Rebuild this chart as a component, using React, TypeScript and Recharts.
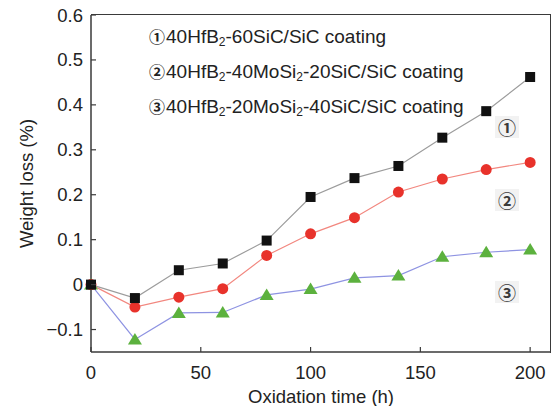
import React from 'react'
import { LineChart, Line, XAxis, YAxis } from 'recharts'

const hours = [0, 20, 40, 60, 80, 100, 120, 140, 160, 180, 200]
const hfSic = [0, -0.03, 0.032, 0.047, 0.098, 0.195, 0.237, 0.264, 0.327, 0.386, 0.462]
const hfMo40 = [0, -0.05, -0.028, -0.009, 0.065, 0.113, 0.149, 0.206, 0.235, 0.256, 0.272]
const hfMo20 = [0, -0.122, -0.063, -0.062, -0.023, -0.01, 0.015, 0.02, 0.062, 0.072, 0.078]
const seriesNames = ['40HfB2-60SiC/SiC coating', '40HfB2-40MoSi2-20SiC/SiC coating', '40HfB2-20MoSi2-40SiC/SiC coating']
const marks = ['\u2460', '\u2461', '\u2462']
const xTicks = [0, 50, 100, 150, 200]
const yTicks = [-0.1, 0, 0.1, 0.2, 0.3, 0.4, 0.5, 0.6]

const data = hours.map((h, i) => ({ h, s1: hfSic[i], s2: hfMo40[i], s3: hfMo20[i] }))

const font = '"Liberation Sans", Arial, sans-serif'
const markFont = '"Noto Sans CJK SC", "DejaVu Sans", sans-serif'
const ink = '#222'
const frame = '#3a3a3a'
const fs = 18.5

// subscript the 2 in HfB2 / MoSi2
const renderName = (n: string) =>
  n.split(/(HfB2|MoSi2)/).map((part, i) =>
    part === 'HfB2' || part === 'MoSi2'
      ? <span key={i}>{part.slice(0, -1)}<sub style={{ fontSize: 12, verticalAlign: '-3px', lineHeight: 0 }}>2</sub></span>
      : <span key={i}>{part}</span>)

const fmtY = (v: number) => (v === 0 ? '0' : v < 0 ? '\u2212' + Math.abs(v) : String(v))

const YTick = (props: any) => {
  const { y, payload } = props
  return (
    <g>
      <line x1={91} x2={96} y1={y} y2={y} stroke={frame} strokeWidth={1.2} />
      <text x={83} y={y} dy={6.5} textAnchor="end" fontSize={fs} fill={ink} fontFamily={font}>{fmtY(payload.value)}</text>
    </g>
  )
}

const XTick = (props: any) => {
  const { x, payload } = props
  return (
    <g>
      <line x1={x} x2={x} y1={352} y2={347} stroke={frame} strokeWidth={1.2} />
      <text x={x} y={379} textAnchor="middle" fontSize={fs} fill={ink} fontFamily={font}>{payload.value}</text>
    </g>
  )
}

const squareDot = (p: any) => <rect key={p.index} x={p.cx - 5} y={p.cy - 5} width={10} height={10} fill="#111" />
const circleDot = (p: any) => <circle key={p.index} cx={p.cx} cy={p.cy} r={5.5} fill="#e8322b" />
const triDot = (p: any) =>
  <polygon key={p.index} points={`${p.cx},${p.cy - 6.5} ${p.cx - 7},${p.cy + 5} ${p.cx + 7},${p.cy + 5}`} fill="#5cb13e" />

const tagPos = [127, 200, 292]

export default function App() {
  return (
    <div style={{ position: 'absolute', left: 0, top: 0, width: 552, height: 406, background: '#fff' }}>
      <LineChart width={552} height={406} data={data} margin={{ top: 15, right: 1, bottom: 0, left: 0 }}>
        <XAxis dataKey="h" type="number" domain={[0, 209.5]} ticks={xTicks} height={54}
          axisLine={{ stroke: frame, strokeWidth: 1.5 }} tickLine={false} tick={XTick}
          label={{ value: 'Oxidation time (h)', position: 'insideBottom', offset: 3, fontSize: fs, fill: ink, fontFamily: font }} />
        <YAxis type="number" domain={[-0.15, 0.6]} ticks={yTicks} width={91} allowDataOverflow
          axisLine={{ stroke: frame, strokeWidth: 1.5 }} tickLine={false} tick={YTick}
          label={{
            content: (lp: any) => {
              const cy = lp.viewBox.y + lp.viewBox.height / 2
              return <text x={26} y={cy} transform={`rotate(-90 26 ${cy})`} textAnchor="middle" dominantBaseline="central"
                fontSize={fs} fill={ink} fontFamily={font}>Weight loss (%)</text>
            },
          }} />
        <Line dataKey="s3" name={seriesNames[2]} stroke="#8e93e2" strokeWidth={1.2} dot={triDot} isAnimationActive={false} />
        <Line dataKey="s2" name={seriesNames[1]} stroke="#f2877f" strokeWidth={1.2} dot={circleDot} isAnimationActive={false} />
        <Line dataKey="s1" name={seriesNames[0]} stroke="#9c9c9c" strokeWidth={1.2} dot={squareDot} isAnimationActive={false} />
      </LineChart>
      {/* top and right edges of the plot frame */}
      <div style={{
        position: 'absolute', left: 91, top: 14, width: 459, height: 338,
        borderTop: `1.5px solid ${frame}`, borderRight: `1.5px solid ${frame}`, pointerEvents: 'none',
      }} />
      <div style={{ position: 'absolute', left: 149, top: 19, fontFamily: font, fontSize: 19, color: ink, lineHeight: '35px' }}>
        {seriesNames.map((n, i) => (
          <div key={n} style={{ whiteSpace: 'nowrap' }}>
            <span style={{ fontFamily: markFont, fontSize: 16, fontWeight: 700, marginRight: 1 }}>{marks[i]}</span>
            {renderName(n)}
          </div>
        ))}
      </div>
      {tagPos.map((t, i) => (
        <div key={i} style={{
          position: 'absolute', left: 495, top: t - 11, width: 24, height: 22, background: '#f2f2f2',
          fontFamily: markFont, fontSize: 18, fontWeight: 700, lineHeight: '22px', textAlign: 'center', color: '#3a3a3a',
        }}>{marks[i]}</div>
      ))}
    </div>
  )
}
